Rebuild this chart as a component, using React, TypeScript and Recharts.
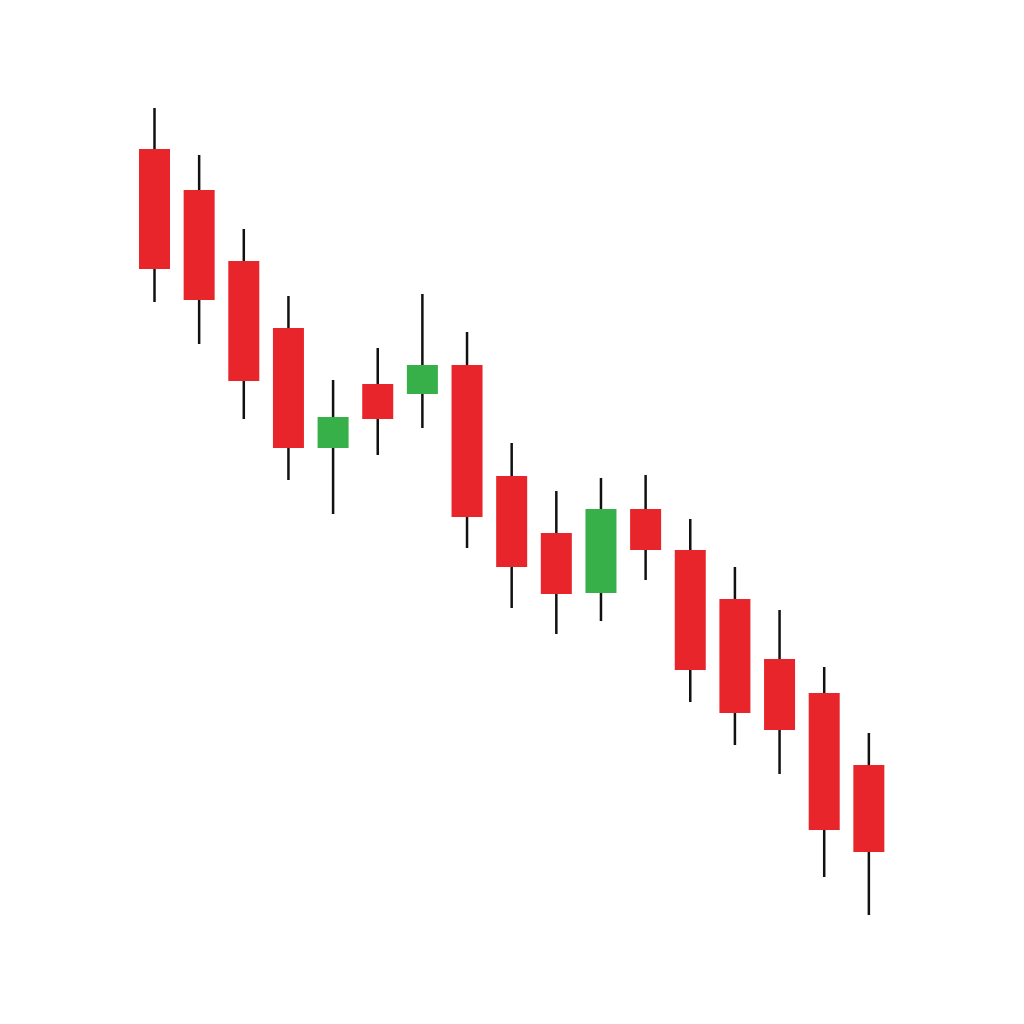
import { ComposedChart, Bar, XAxis, YAxis } from "recharts";

// price = 1024 - pixel row
const days = ["1", "2", "3", "4", "5", "6", "7", "8", "9", "10", "11", "12", "13", "14", "15", "16", "17"];
const opens = [875, 834, 763, 696, 576, 640, 630, 659, 548, 491, 431, 515, 474, 425, 365, 331, 259];
const closes = [755, 724, 643, 576, 607, 605, 659, 507, 457, 430, 515, 474, 354, 311, 294, 194, 172];
const highs = [916, 869, 795, 728, 644, 676, 730, 692, 581, 533, 546, 549, 505, 457, 414, 357, 291];
const lows = [722, 680, 605, 544, 510, 569, 596, 476, 416, 390, 403, 444, 322, 279, 250, 147, 109];

const RED = "#e8252a";
const GREEN = "#38b04a";

const data = days.map((d, i) => ({
  day: d,
  open: opens[i],
  close: closes[i],
  range: [lows[i], highs[i]],
}));

function Candle(props: any) {
  const { x, y, width, height, payload } = props;
  const [low, high] = payload.range;
  const ratio = height / (high - low);
  const top = Math.max(payload.open, payload.close);
  const bottom = Math.min(payload.open, payload.close);
  const bodyY = y + (high - top) * ratio;
  const bodyH = Math.max((top - bottom) * ratio, 1);
  const cx = x + width / 2;
  const up = payload.close > payload.open;
  return (
    <g>
      <line x1={cx} x2={cx} y1={y} y2={y + height} stroke="#111" strokeWidth={2.5} />
      <rect x={x} y={bodyY} width={width} height={bodyH} fill={up ? GREEN : RED} />
    </g>
  );
}

export default function App() {
  return (
    <div style={{ position: "absolute", left: 0, top: 0, width: 1024, height: 1024, background: "#fff" }}>
      <ComposedChart
        width={1024}
        height={1024}
        data={data}
        margin={{ top: 0, right: 133, bottom: 0, left: 132 }}
      >
        <XAxis dataKey="day" hide />
        <YAxis hide domain={[0, 1024]} />
        <Bar dataKey="range" barSize={31} shape={<Candle />} isAnimationActive={false} />
      </ComposedChart>
    </div>
  );
}
